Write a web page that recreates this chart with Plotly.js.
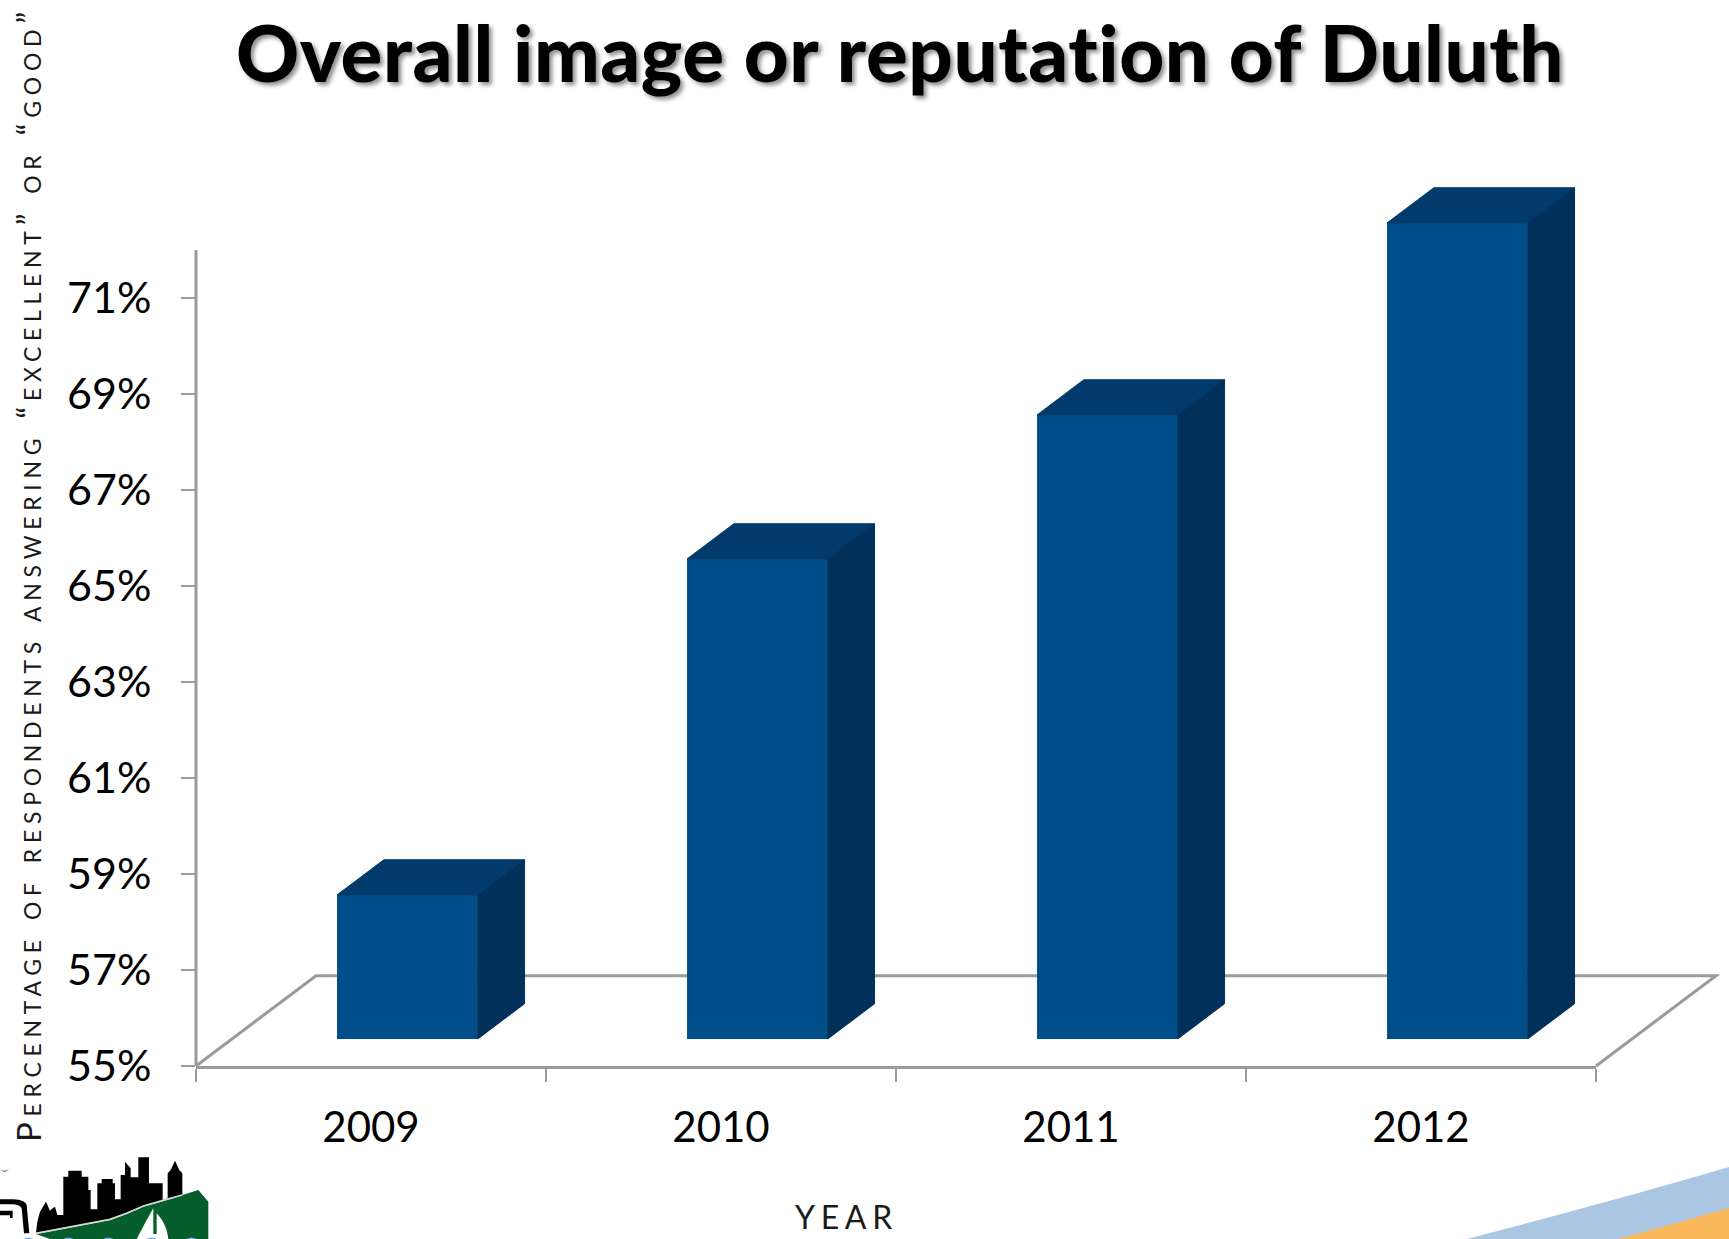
<!DOCTYPE html>
<html>
<head>
<meta charset="utf-8">
<script src="https://cdn.plot.ly/plotly-3.0.1.min.js"></script>
<style>
html, body { margin: 0; padding: 0; background: #fff; }
#chart { width: 1729px; height: 1239px; }
#chart .gtitle { font-feature-settings: "liga" 0, "clig" 0; letter-spacing: 0.6px; }
.annotation-text { letter-spacing: 5.7px; }
</style>
</head>
<body>
<div id="chart"></div>
<script>
// Survey results by year
const years = ['2009', '2010', '2011', '2012'];
const shareGood = [58, 65, 68, 72];
const yTicks = [55, 57, 59, 61, 63, 65, 67, 69, 71];

// Plot frame: the value axis is drawn to axisTop, head room above it holds the tallest box
const frame = { left: 196, right: 1596, bottom: 1066 };
const pxPerPoint = 48;
const yMin = 55, axisTop = 72, yMax = 74;
frame.top = frame.bottom - (yMax - yMin) * pxPerPoint;

// Oblique projection of the chart floor and the boxes on it
const floorDx = 120 / 350, floorDy = 1.88;
const frontShare = 0.3, backShare = 0.69;
const barWidth = 0.402, barOffset = -0.097;

const frontBase = yMin + floorDy * frontShare;
const boxDx = floorDx * (backShare - frontShare);
const boxDy = floorDy * (backShare - frontShare);

const colors = { front: '#004e89', top: '#023b6b', side: '#01305a', axis: '#9a9a9a' };

const bars = {
  type: 'bar', x: years, y: shareGood.map(v => v - yMin), base: years.map(() => frontBase),
  width: barWidth, offset: barOffset, marker: { color: colors.front, line: { width: 0 } },
  cliponaxis: false, hoverinfo: 'skip', showlegend: false
};

// Top and side faces are placed from the same values on a numeric twin of the category axis
function face(points, color) {
  return {
    type: 'scatter', mode: 'lines', xaxis: 'x2', yaxis: 'y',
    x: points.map(p => p[0]), y: points.map(p => p[1]),
    fill: 'toself', fillcolor: color, line: { width: 1, color: color },
    cliponaxis: false, hoverinfo: 'skip', showlegend: false
  };
}
const faces = [];
shareGood.forEach((v, i) => {
  const x0 = i + barOffset, x1 = x0 + barWidth;
  const top = frontBase + v - yMin;
  faces.push(face([[x0, top], [x1, top], [x1 + boxDx, top + boxDy], [x0 + boxDx, top + boxDy], [x0, top]], colors.top));
  faces.push(face([[x1, frontBase], [x1 + boxDx, frontBase + boxDy], [x1 + boxDx, top + boxDy], [x1, top], [x1, frontBase]], colors.side));
});

// Floor outline, expressed as fractions of the plot frame
const plotW = frame.right - frame.left, plotH = frame.bottom - frame.top;
const floorX = floorDx / years.length;
const floorY = floorDy / (yMax - yMin);
const floorShape = {
  type: 'path', xref: 'paper', yref: 'paper', layer: 'below',
  path: `M 0 0 L ${floorX} ${floorY} L ${1 + floorX} ${floorY} L 1 0`,
  line: { color: colors.axis, width: 3 }
};
const valueAxisLine = {
  type: 'line', xref: 'paper', yref: 'paper', layer: 'below',
  x0: 0, x1: 0, y0: 0, y1: (axisTop - yMin) / (yMax - yMin),
  line: { color: colors.axis, width: 3 }
};

// Skyline mark and corner swoosh, laid over the whole page as one vector image
const skyline = `<svg xmlns="http://www.w3.org/2000/svg" width="1729" height="1239" viewBox="0 0 1729 1239">
<path d="M1467 1239 C1560 1215 1650 1190 1729 1167 V1239 Z" fill="#aac6e2"/>
<path d="M1617 1239 C1660 1228 1700 1216 1729 1208 V1239 Z" fill="#f9b75c"/>
<g transform="translate(0 1140) scale(0.3333)">
<path d="M108 278 L112 245 L120 215 L138 185 L150 212 L158 205 L165 200 L172 225 H190 V110 H205 V92 H245 V110 H265 V150 H272 V208 H292 V130 H305 V117 H338 V130 H345 V178 H362 V105 H375 V65 L392 85 V112 H415 V52 H447 V130 H488 V180 L503 175 V100 L512 90 L525 62 L538 90 L547 100 V165 L430 198 L330 238 Z" fill="#000"/>
<path d="M108 282 L330 240 L380 222 L430 200 L500 180 L595 150 L625 185 V297 H505 C503 270 490 240 470 220 V282 H460 V205 L440 240 L410 297 H150 Z" fill="#055e2c"/>
<path d="M108 280 L330 238 L380 220 L430 198 L500 178 L547 165" fill="none" stroke="#d4d4d4" stroke-width="5"/>
<path d="M0 178 H40 Q76 180 80 195 L88 280 H72 L65 205 Q60 194 40 193 H0 Z M0 212 H38 V234 H30 V226 H0 Z" fill="#000"/>
<path d="M0 90 L14 92 L28 88 L14 97 Z" fill="#777"/>
<path d="M70 297 Q85 288 100 297 Z M190 297 Q205 288 220 297 Z M310 297 Q325 288 340 297 Z M440 297 Q455 288 470 297 Z M560 297 Q575 288 590 297 Z" fill="#7fa9d4"/>
</g>
</svg>`;
const pageImage = {
  source: 'data:image/svg+xml;charset=utf-8,' + encodeURIComponent(skyline),
  xref: 'paper', yref: 'paper', layer: 'below', sizing: 'stretch',
  x: -frame.left / plotW, y: frame.bottom / plotH,
  sizex: 1729 / plotW, sizey: 1239 / plotH,
  xanchor: 'left', yanchor: 'top'
};

const axisFont = { family: 'Lato, sans-serif', size: 42, color: '#000' };
const valueFont = { family: 'Lato, sans-serif', size: 43, color: '#000' };
const captionFont = { family: 'Lato, sans-serif', size: 33, color: '#1a1a1a', variant: 'small-caps' };
const yearFont = { family: 'Lato, sans-serif', size: 32, color: '#1a1a1a' };

const layout = {
  width: 1729, height: 1239,
  margin: { l: frame.left, r: 1729 - frame.right, t: frame.top, b: 1239 - frame.bottom, pad: 0 },
  paper_bgcolor: '#fff', plot_bgcolor: 'rgba(0,0,0,0)',
  showlegend: false,
  title: {
    text: 'Overall image or reputation of Duluth',
    x: 900 / 1729, xanchor: 'center', y: 1 - 55 / 1239, yanchor: 'middle',
    font: { family: 'Lato, sans-serif', size: 78, weight: 900, color: '#000', shadow: '3px 3px 4px rgba(0,0,0,0.45)' }
  },
  xaxis: {
    type: 'category', categoryorder: 'array', categoryarray: years, range: [-0.5, 3.5],
    tickson: 'boundaries', ticks: 'outside', ticklen: 13, tickwidth: 2, tickcolor: colors.axis,
    showline: true, linecolor: colors.axis, linewidth: 3, showgrid: false, zeroline: false,
    tickfont: axisFont, ticklabelstandoff: 23, fixedrange: true
  },
  xaxis2: {
    overlaying: 'x', anchor: 'y', type: 'linear', range: [-0.5, 3.5], visible: false, fixedrange: true
  },
  yaxis: {
    range: [yMin, yMax], tickmode: 'array', tickvals: yTicks, ticktext: yTicks.map(t => t + '%'),
    ticks: 'outside', ticklen: 14, tickwidth: 2, tickcolor: colors.axis,
    showline: false, showgrid: false, zeroline: false,
    tickfont: valueFont, ticklabelstandoff: 21, fixedrange: true
  },
  shapes: [floorShape, valueAxisLine],
  images: [pageImage],
  annotations: [
    {
      text: 'Percentage of respondents answering “excellent” or “good”',
      xref: 'paper', yref: 'paper', textangle: -90, showarrow: false,
      x: (28 - frame.left) / plotW, y: (frame.bottom - 574) / plotH,
      xanchor: 'center', yanchor: 'middle', font: captionFont
    },
    {
      text: 'YEAR',
      xref: 'paper', yref: 'paper', showarrow: false,
      x: (846 - frame.left) / plotW, y: (frame.bottom - 1216) / plotH,
      xanchor: 'center', yanchor: 'middle', font: yearFont
    }
  ]
};

Plotly.newPlot('chart', [bars].concat(faces), layout, { displayModeBar: false, staticPlot: true });
</script>
</body>
</html>
